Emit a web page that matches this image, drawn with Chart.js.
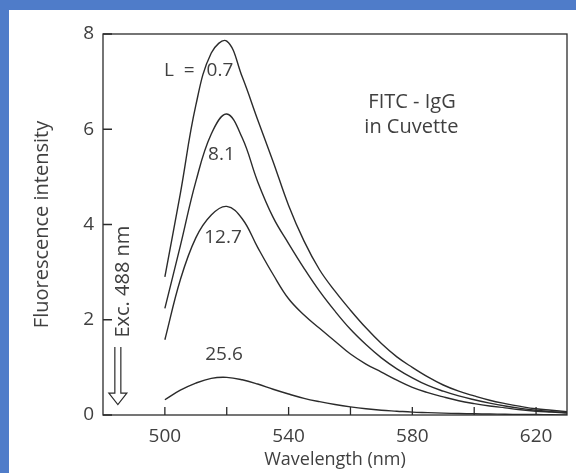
<!DOCTYPE html>
<html>
<head>
<meta charset="utf-8">
<script src="https://cdn.jsdelivr.net/npm/chart.js@4.4.1/dist/chart.umd.min.js"></script>
<style>
  html, body { margin: 0; padding: 0; }
  body { width: 576px; height: 473px; background: #4f7cc9; overflow: hidden; }
  #wrap { position: absolute; left: 9px; top: 10px; width: 567px; height: 463px; background: #fff; }
</style>
</head>
<body>
<div id="wrap"><canvas id="chart" width="567" height="463"></canvas></div>
<script>
// wavelength (nm), every 5 nm along the curves
const wavelengths = [500, 505, 510, 515, 520, 525, 530, 535, 540, 545, 550, 555, 560, 565, 570, 575, 580, 585, 590, 595, 600, 605, 610, 615, 620, 625, 630];

// fluorescence intensity for each L value
const seriesLabels = ['0.7', '8.1', '12.7', '25.6'];
const intensityL07 = [2.9, 4.65, 6.5, 7.6, 7.85, 7.1, 6.2, 5.32, 4.4, 3.65, 3.05, 2.6, 2.2, 1.83, 1.5, 1.22, 1.0, 0.8, 0.63, 0.5, 0.4, 0.31, 0.24, 0.18, 0.13, 0.1, 0.07];
const intensityL81 = [2.24, 3.55, 4.9, 5.9, 6.32, 5.82, 4.9, 4.15, 3.6, 3.08, 2.6, 2.18, 1.8, 1.48, 1.2, 0.97, 0.78, 0.62, 0.5, 0.4, 0.32, 0.25, 0.19, 0.14, 0.1, 0.07, 0.05];
const intensityL127 = [1.58, 2.84, 3.72, 4.2, 4.38, 4.12, 3.52, 2.95, 2.44, 2.1, 1.82, 1.55, 1.28, 1.07, 0.9, 0.73, 0.58, 0.47, 0.38, 0.3, 0.24, 0.19, 0.15, 0.11, 0.08, 0.06, 0.04];
const intensityL256 = [0.32, 0.52, 0.67, 0.77, 0.79, 0.74, 0.65, 0.54, 0.44, 0.35, 0.28, 0.22, 0.17, 0.13, 0.1, 0.08, 0.06, 0.05, 0.04, 0.03, 0.025, 0.02, 0.015, 0.01, 0.01, 0.005, 0];

// axis ticks
const xTickMarks = [500, 520, 540, 560, 580, 600, 620];
const xTickLabels = [500, 540, 580, 620];
const yTickLabels = [0, 2, 4, 6, 8];

const lineColor = '#2b2b2b';
const textColor = '#404040';
const fontFamily = '"Open Sans", sans-serif';

const toPoints = (values) => values.map((v, i) => ({ x: wavelengths[i], y: v }));

const allSeries = [intensityL07, intensityL81, intensityL127, intensityL256];

// frame, inward ticks and text labels on the plot
const decorations = {
  id: 'decorations',
  afterDraw(chart) {
    const { ctx, chartArea: a, scales: { x, y } } = chart;
    ctx.save();
    ctx.strokeStyle = lineColor;
    ctx.lineWidth = 1.3;
    ctx.strokeRect(a.left, a.top, a.right - a.left, a.bottom - a.top);

    // inward ticks
    ctx.beginPath();
    xTickMarks.forEach(v => {
      const px = x.getPixelForValue(v);
      ctx.moveTo(px, a.bottom);
      ctx.lineTo(px, a.bottom - 8);
    });
    yTickLabels.forEach(v => {
      const py = y.getPixelForValue(v);
      ctx.moveTo(a.left, py);
      ctx.lineTo(a.left + 9, py);
    });
    ctx.stroke();

    // curve labels
    ctx.fillStyle = textColor;
    ctx.textBaseline = 'middle';
    ctx.font = '19px ' + fontFamily;
    ctx.textAlign = 'right';
    ctx.fillText('L  =', x.getPixelForValue(509.6), y.getPixelForValue(7.23));
    ctx.textAlign = 'center';
    const labelPos = [[517.8, 7.23], [518.3, 5.47], [518.8, 3.73], [519.1, 1.26]];
    seriesLabels.forEach((t, i) => {
      ctx.fillText(t, x.getPixelForValue(labelPos[i][0]), y.getPixelForValue(labelPos[i][1]));
    });

    ctx.font = '20px ' + fontFamily;
    ctx.fillText('FITC - IgG', x.getPixelForValue(579.9), y.getPixelForValue(6.57));
    ctx.fillText('in Cuvette', x.getPixelForValue(579.7), y.getPixelForValue(6.05));

    // excitation note with hollow arrow
    const ex = x.getPixelForValue(484.8);
    ctx.save();
    ctx.translate(x.getPixelForValue(486.6), y.getPixelForValue(2.8));
    ctx.rotate(-Math.PI / 2);
    ctx.font = '20px ' + fontFamily;
    ctx.fillText('Exc. 488 nm', 0, 0);
    ctx.restore();

    const yTop = y.getPixelForValue(1.43);
    const yBase = y.getPixelForValue(0.46);
    const yTip = y.getPixelForValue(0.22);
    ctx.lineWidth = 1.2;
    ctx.beginPath();
    ctx.moveTo(ex - 3, yTop); ctx.lineTo(ex - 3, yBase);
    ctx.lineTo(ex - 9, yBase); ctx.lineTo(ex, yTip); ctx.lineTo(ex + 9, yBase);
    ctx.lineTo(ex + 3, yBase); ctx.lineTo(ex + 3, yTop);
    ctx.stroke();
    ctx.restore();
  }
};

new Chart(document.getElementById('chart'), {
  type: 'line',
  data: {
    datasets: allSeries.map((vals, i) => ({
      label: 'L = ' + seriesLabels[i],
      data: toPoints(vals),
      borderColor: lineColor,
      borderWidth: 1.4,
      pointRadius: 0,
      fill: false,
      tension: 0.4
    }))
  },
  options: {
    responsive: false,
    animation: false,
    layout: { padding: { top: 24, right: 9, left: 0, bottom: 0 } },
    plugins: {
      legend: { display: false },
      tooltip: { enabled: false }
    },
    scales: {
      x: {
        type: 'linear',
        min: 480,
        max: 630,
        grid: { display: false, drawTicks: false },
        border: { display: false },
        afterBuildTicks: (scale) => { scale.ticks = xTickLabels.map(v => ({ value: v })); },
        afterFit: (scale) => { scale.height = 58; },
        ticks: {
          color: textColor,
          padding: 10,
          font: { family: fontFamily, size: 19 },
          maxRotation: 0
        },
        title: {
          display: true,
          text: 'Wavelength (nm)',
          color: textColor,
          font: { family: fontFamily, size: 18 },
          padding: { top: 0, bottom: 2 }
        }
      },
      y: {
        min: 0,
        max: 8,
        grid: { display: false, drawTicks: false },
        border: { display: false },
        afterBuildTicks: (scale) => { scale.ticks = yTickLabels.map(v => ({ value: v })); },
        afterFit: (scale) => { scale.width = 94; },
        ticks: {
          color: textColor,
          padding: 9,
          font: { family: fontFamily, size: 19 }
        },
        title: {
          display: true,
          text: 'Fluorescence intensity',
          color: textColor,
          font: { family: fontFamily, size: 20 },
          padding: { top: 21, bottom: 0 }
        }
      }
    }
  },
  plugins: [decorations]
});
</script>
</body>
</html>
